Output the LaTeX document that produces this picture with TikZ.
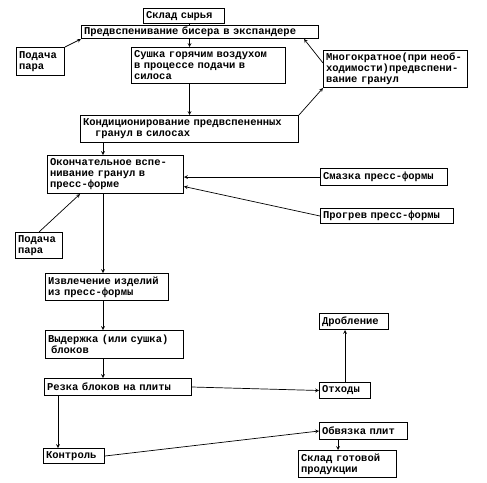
\documentclass[tikz,border=0pt]{standalone}
\usepackage{fontspec}
\setmainfont{Liberation Mono}
\begin{document}
\begin{tikzpicture}[
    x=1pt, y=-1pt,
    >=stealth,
    stage/.style={draw, line width=1pt, rectangle, anchor=north west, align=left,
      inner xsep=2.5pt, inner ysep=1.5pt, font=\fontsize{10.5}{11}\selectfont\bfseries},
    flow/.style={->, line width=0.7pt},
    link/.style={line width=0.7pt}
]
  \useasboundingbox (0,0) rectangle (487,482);

  % Raw material and pre-expansion
  \node[stage, text width=76pt, minimum height=15pt] (sklad) at (143,8) {Склад сырья};
  \node[stage, text width=232pt, minimum height=13pt] (predv) at (81,25) {Предвспенивание бисера в экспандере};
  \node[stage, text width=43pt, minimum height=28pt] (par1) at (16,47) {Подача\\пара};
  \node[stage, text width=149pt, minimum height=36pt] (sushka) at (131,47) {Сушка горячим воздухом\\в процессе подачи в\\силоса};
  \node[stage, text width=139pt, minimum height=37pt] (mnogo) at (323,50) {Многократное(при необ-\\ходимости)предвспени-\\вание гранул};
  \node[stage, text width=213pt, minimum height=27pt] (kond) at (80,115) {Кондиционирование предвспененных\\\hspace*{12pt}гранул в силосах};

  % Moulding
  \node[stage, text width=131pt, minimum height=38pt] (okonch) at (47,155) {Окончательное вспе-\\нивание гранул в\\пресс-форме};
  \node[stage, text width=122pt, minimum height=17pt] (smazka) at (320,168) {Смазка пресс-формы};
  \node[stage, text width=128pt, minimum height=15pt] (progrev) at (320,208) {Прогрев пресс-формы};
  \node[stage, text width=42pt, minimum height=26pt] (par2) at (15,232) {Подача\\пара};

  % Blocks and plates
  \node[stage, text width=118pt, minimum height=27pt] (izvl) at (45,273) {Извлечение изделий\\из пресс-формы};
  \node[stage, text width=133pt, minimum height=28pt] (vyd) at (45,330) {Выдержка (или сушка)\\\hspace*{3pt}блоков};
  \node[stage, text width=142pt, minimum height=17pt] (rezka) at (44,378) {Резка блоков на плиты};
  \node[stage, text width=56pt, minimum height=15pt] (kontrol) at (43,448) {Контроль};
  \node[stage, text width=64pt, minimum height=16pt] (drob) at (319,313) {Дробление};
  \node[stage, text width=46pt, minimum height=16pt] (othody) at (319,382) {Отходы};
  \node[stage, text width=83pt, minimum height=17pt] (obvyaz) at (319,422) {Обвязка плит};
  \node[stage, text width=93pt, minimum height=27pt] (sklad2) at (298,450) {Склад готовой\\продукции};

  \coordinate (spine) at (103,0);
  \coordinate (kaxis) at (58,0);
  \coordinate (oaxis) at ([xshift=19pt]obvyaz.south west);

  \draw[link] (sklad.south -| kond.north) -- (predv.north -| kond.north);
  \draw[flow] (predv.south -| kond.north) -- (sushka.north -| kond.north);
  \draw[flow] (sushka.south -| kond.north) -- (kond.north);
  \draw[flow] (par1.north east) -- (predv.south west);
  \draw[flow] (kond.north east) -- (mnogo.south west);
  \draw[flow] ([yshift=-13pt]mnogo.north west) -- ([xshift=-15pt]predv.south east);
  \draw[flow] (spine |- kond.south) -- (spine |- okonch.north);
  \draw[flow] (smazka.west) -- (smazka.west -| okonch.east);
  \draw[flow] (progrev.west) -- ([yshift=-12pt]okonch.east);
  \draw[flow] (par2.north) -- ([xshift=33pt]okonch.south west);
  \draw[flow] (spine |- okonch.south) -- (spine |- izvl.north);
  \draw[flow] (spine |- izvl.south) -- (spine |- vyd.north);
  \draw[flow] (spine |- vyd.south) -- (spine |- rezka.north);
  \draw[flow] (kaxis |- rezka.south) -- (kaxis |- kontrol.north);
  \draw[flow] (rezka.east) -- (othody.west);
  \draw[flow] (othody.north) -- (othody.north |- drob.south);
  \draw[flow] (kontrol.east) -- (obvyaz.west);
  \draw[flow] (oaxis) -- (oaxis |- sklad2.north);
\end{tikzpicture}
\end{document}
